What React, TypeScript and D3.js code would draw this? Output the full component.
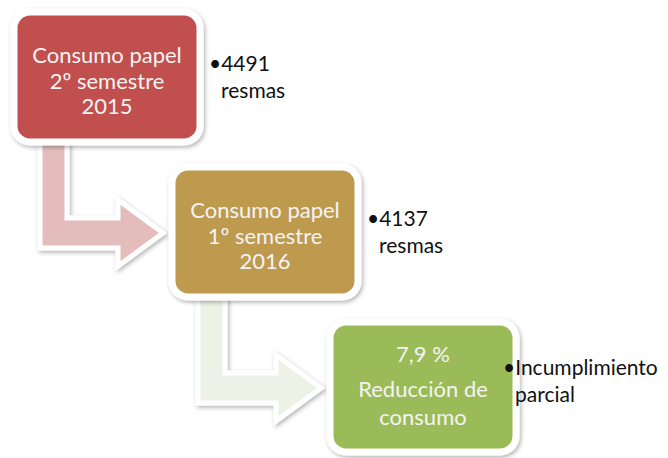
import React from 'react';
import * as d3 from 'd3';

// steps of the process, top-left to bottom-right
const boxLines = [
  ['Consumo papel', '2º semestre', '2015'],
  ['Consumo papel', '1º semestre', '2016'],
  ['7,9 %', 'Reducción de', 'consumo'],
];
const noteLines = [
  ['•4491', 'resmas'],
  ['•4137', 'resmas'],
  ['•Incumplimiento', 'parcial'],
];
const boxColors = ['#C0504D', '#BE9A50', '#9BBB59'];
const arrowColors = ['#E5BCBC', '#EDF1E6'];

const W = 668;
const H = 458;
const boxW = 186;
const boxH = 130;

const App: React.FC = () => {
  const steps = d3.range(boxLines.length);
  const x = d3.scaleLinear().domain([0, 2]).range([14, 330]);
  const y = d3.scaleLinear().domain([0, 2]).range([12, 322]);

  const arrowPath = (i: number) => {
    const x0 = x(i);
    const y0 = y(i);
    const p = d3.path();
    p.moveTo(x0 + 26, y0 + 100);
    p.lineTo(x0 + 53, y0 + 100);
    p.lineTo(x0 + 53, y0 + 206);
    p.lineTo(x0 + 104, y0 + 206);
    p.lineTo(x0 + 104, y0 + 188);
    p.lineTo(x0 + 149, y0 + 221);
    p.lineTo(x0 + 104, y0 + 254);
    p.lineTo(x0 + 104, y0 + 236);
    p.lineTo(x0 + 26, y0 + 236);
    p.closePath();
    return p.toString();
  };

  const font = "Lato, 'Open Sans', sans-serif";

  return (
    <div style={{ position: 'absolute', left: 0, top: 0 }}>
      <svg width={W} height={H} style={{ display: 'block', background: '#fff' }}>
        <defs>
          <filter id="shadow" x="-20%" y="-20%" width="140%" height="140%">
            <feDropShadow dx="1.5" dy="2" stdDeviation="2" floodColor="#000" floodOpacity="0.3" />
          </filter>
        </defs>

        {/* bent arrows behind the boxes */}
        {steps.slice(0, -1).map(i => (
          <path
            key={`a${i}`}
            d={arrowPath(i)}
            fill={arrowColors[i]}
            stroke="#fff"
            strokeWidth={5}
            strokeLinejoin="miter"
            filter="url(#shadow)"
          />
        ))}

        {steps.map(i => (
          <g key={`b${i}`} transform={`translate(${x(i)},${y(i)})`}>
            <rect
              x={0}
              y={0}
              width={boxW}
              height={boxH}
              rx={16}
              fill={boxColors[i]}
              stroke="#fff"
              strokeWidth={7}
              filter="url(#shadow)"
            />
            <text
              x={boxW / 2}
              textAnchor="middle"
              fill="#F4F4F4"
              fontFamily={font}
              fontSize={22}
            >
              {boxLines[i].map((t, j) => (
                <tspan key={j} x={boxW / 2} y={i === 2 ? [40, 75, 103][j] : [51, 77, 102][j]}>
                  {t}
                </tspan>
              ))}
            </text>
            <text fill="#111" fontFamily={font} fontSize={21}>
              {noteLines[i].map((t, j) => (
                <tspan
                  key={j}
                  x={i === 2 ? 173 : 195}
                  dx={j === 0 ? 0 : 12}
                  y={(i === 2 ? 53 : 59) + j * 27}
                >
                  {t}
                </tspan>
              ))}
            </text>
          </g>
        ))}
      </svg>
    </div>
  );
};

export default App;
